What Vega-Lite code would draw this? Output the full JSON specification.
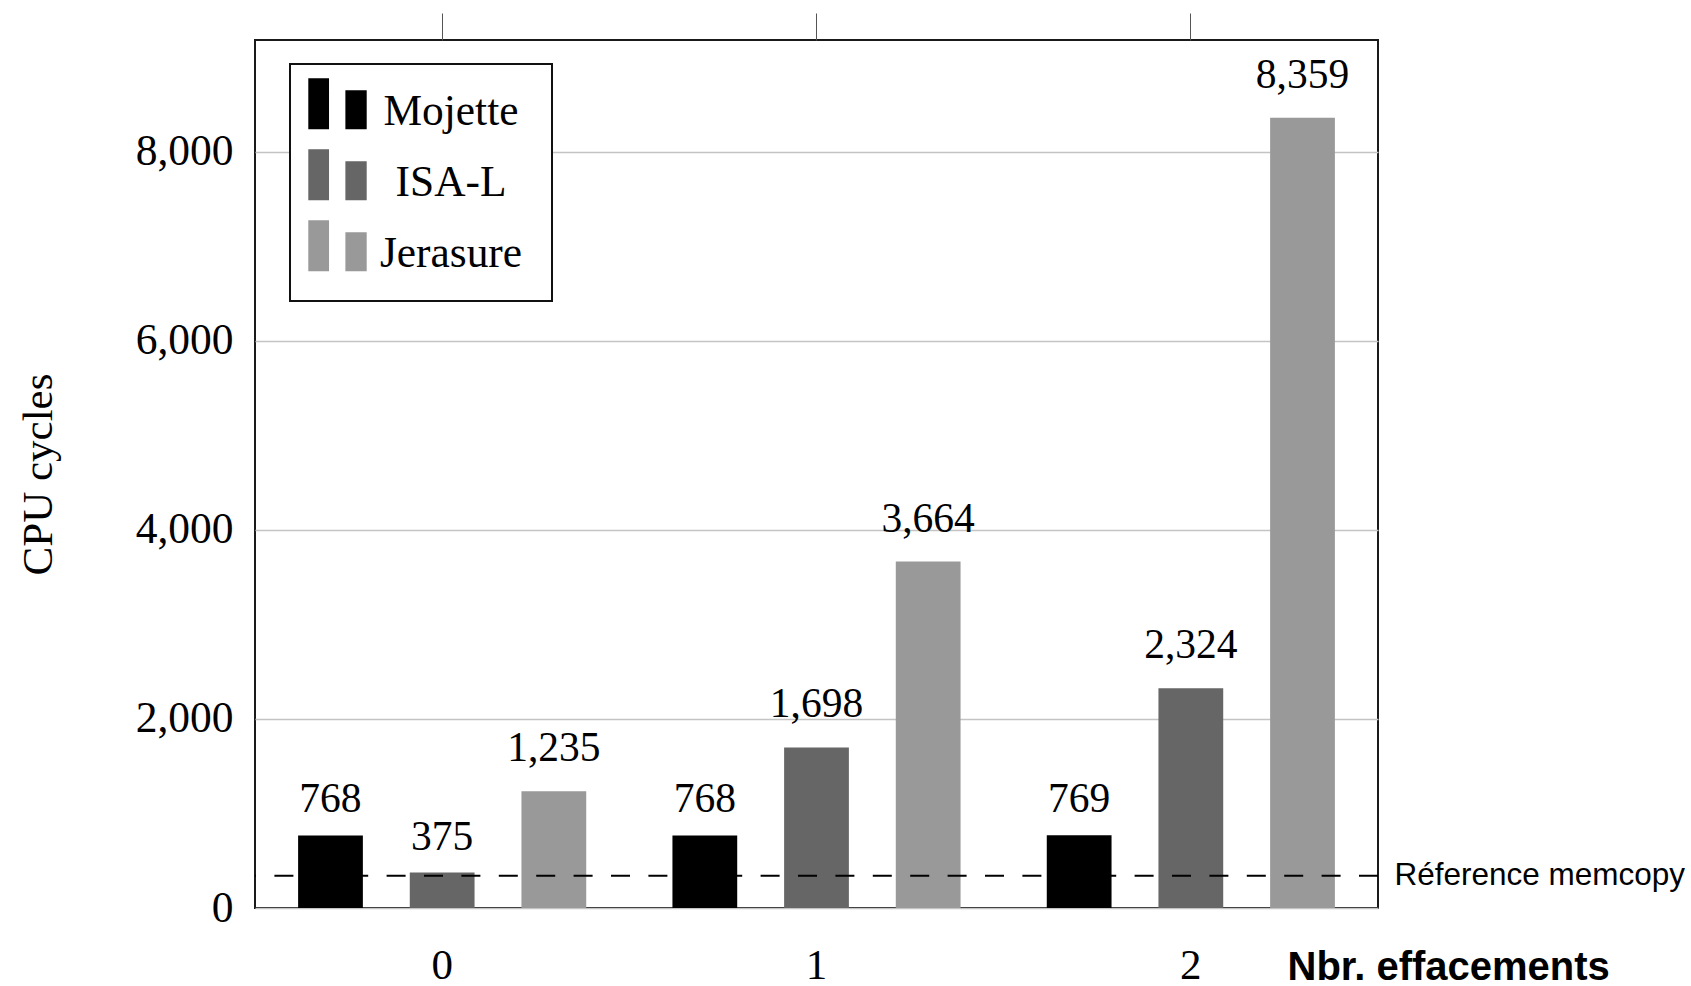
{
  "$schema": "https://vega.github.io/schema/vega-lite/v6.json",
  "width": 1123,
  "height": 868,
  "padding": {"left": 17, "top": 12, "right": 0, "bottom": 0},
  "autosize": {"type": "pad"},
  "background": "white",
  "config": {
    "view": {"stroke": "#1a1a1a", "strokeWidth": 2},
    "font": "Liberation Serif",
    "legend": {"strokeWidth": 2}
  },
  "data": {
    "values": [
      {"eff": "0", "method": "Mojette", "cycles": 768},
      {"eff": "0", "method": "ISA-L", "cycles": 375},
      {"eff": "0", "method": "Jerasure", "cycles": 1235},
      {"eff": "1", "method": "Mojette", "cycles": 768},
      {"eff": "1", "method": "ISA-L", "cycles": 1698},
      {"eff": "1", "method": "Jerasure", "cycles": 3664},
      {"eff": "2", "method": "Mojette", "cycles": 769},
      {"eff": "2", "method": "ISA-L", "cycles": 2324},
      {"eff": "2", "method": "Jerasure", "cycles": 8359}
    ]
  },
  "layer": [
    {
      "mark": {"type": "bar"},
      "encoding": {
        "x": {
          "field": "eff", "type": "nominal",
          "scale": {"paddingInner": 0, "paddingOuter": 0},
          "axis": {
            "orient": "bottom", "labelAngle": 0, "ticks": false, "domain": false,
            "labelFont": "Liberation Serif", "labelFontSize": 43, "labelColor": "black", "labelPadding": 36,
            "title": "Nbr. effacements", "titleFont": "Liberation Sans", "titleFontWeight": "bold",
            "titleFontSize": 40, "titleColor": "black", "titleX": 1032, "titleY": 59,
            "titleAlign": "left", "titleBaseline": "middle"
          }
        },
        "xOffset": {
          "field": "method", "type": "nominal", "sort": ["Mojette", "ISA-L", "Jerasure"],
          "scale": {"paddingInner": 0.42, "paddingOuter": 0.386}
        },
        "y": {
          "field": "cycles", "type": "quantitative",
          "scale": {"domain": [0, 9180], "nice": false},
          "axis": {
            "orient": "left", "values": [0, 2000, 4000, 6000, 8000], "format": ",d",
            "labelFont": "Liberation Serif", "labelFontSize": 43.5, "labelColor": "black", "labelPadding": 22,
            "ticks": false, "domain": false, "grid": true, "gridColor": "#c4c4c4", "gridWidth": 1.5,
            "title": "CPU cycles", "titleFont": "Liberation Serif", "titleFontWeight": "normal",
            "titleFontSize": 43, "titleColor": "black", "titleX": -217, "titleY": 434,
            "titleBaseline": "middle", "titleAngle": -90
          }
        },
        "color": {
          "field": "method", "type": "nominal",
          "scale": {"domain": ["Mojette", "ISA-L", "Jerasure"], "range": ["#000000", "#666666", "#999999"]},
          "legend": {
            "orient": "none", "legendX": 35, "legendY": 24, "title": null,
            "fillColor": "white", "strokeColor": "#111", "padding": 18,
            "symbolType": "M-1,-1.14H-0.29V0.61H-1Z M0.27,-0.73H1V0.61H0.27Z M6.72,1.0Z",
            "symbolSize": 3411, "symbolStrokeWidth": 0, "symbolOpacity": 1,
            "labelFont": "Liberation Serif", "labelFontSize": 43.4, "labelColor": "black",
            "labelAlign": "center", "labelOffset": 84, "rowPadding": 8, "labelLimit": 400
          }
        }
      }
    },
    {
      "transform": [{"filter": "datum.cycles < 1000"}],
      "mark": {"type": "text", "baseline": "alphabetic", "dy": -23, "fontSize": 41.5, "font": "Liberation Serif", "color": "black"},
      "encoding": {
        "x": {
          "field": "eff", "type": "nominal",
          "axis": {
            "orient": "top", "labels": false, "ticks": true, "tickSize": 27, "tickColor": "#555",
            "tickWidth": 1, "domain": false, "grid": false, "title": null, "bandPosition": 0.5
          }
        },
        "xOffset": {"field": "method", "type": "nominal", "sort": ["Mojette", "ISA-L", "Jerasure"]},
        "y": {"field": "cycles", "type": "quantitative", "scale": {"domain": [0, 9180], "nice": false}, "axis": null},
        "text": {"field": "cycles", "type": "quantitative", "format": ",d"}
      }
    },
    {
      "transform": [{"filter": "datum.cycles >= 1000"}],
      "mark": {"type": "text", "baseline": "alphabetic", "dy": -30, "fontSize": 41.5, "font": "Liberation Serif", "color": "black"},
      "encoding": {
        "x": {"field": "eff", "type": "nominal", "axis": null},
        "xOffset": {"field": "method", "type": "nominal", "sort": ["Mojette", "ISA-L", "Jerasure"]},
        "y": {"field": "cycles", "type": "quantitative", "scale": {"domain": [0, 9180], "nice": false}, "axis": null},
        "text": {"field": "cycles", "type": "quantitative", "format": ",d"}
      }
    },
    {
      "data": {"values": [{"memcpy": 340}]},
      "mark": {"type": "rule", "strokeDash": [19, 18.4], "strokeWidth": 2, "color": "black"},
      "encoding": {
        "y": {
          "field": "memcpy", "type": "quantitative",
          "scale": {"domain": [0, 9180], "nice": false},
          "axis": {
            "orient": "right", "values": [340], "labelExpr": "'Réference memcopy'",
            "labelFont": "Liberation Sans", "labelFontSize": 31.5, "labelColor": "black",
            "labelPadding": 16, "labelBaseline": "middle", "labelLimit": 600, "ticks": false, "domain": false,
            "grid": false, "title": null
          }
        }
      }
    }
  ],
  "resolve": {"axis": {"x": "independent", "y": "independent"}}
}
